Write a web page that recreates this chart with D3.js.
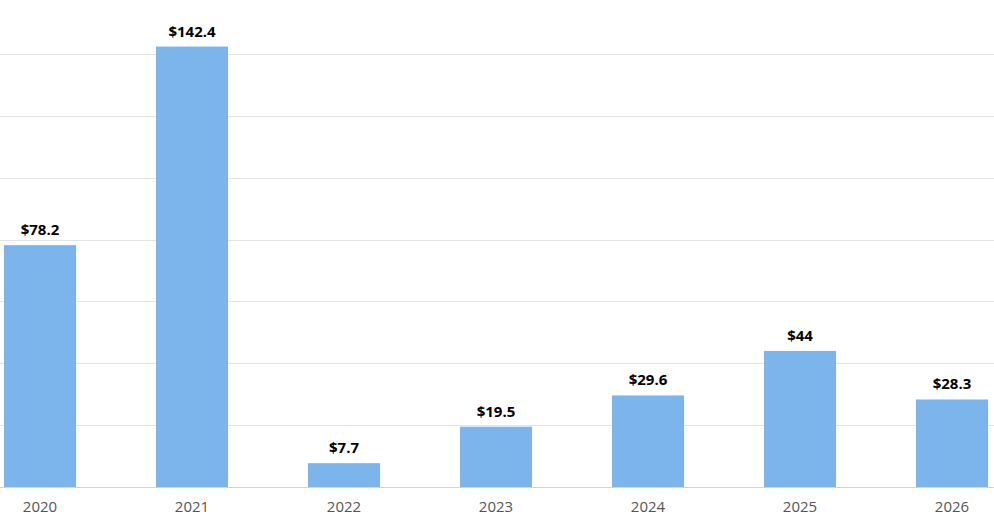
<!DOCTYPE html>
<html>
<head>
<meta charset="utf-8">
<script src="https://cdn.jsdelivr.net/npm/d3@7"></script>
<style>
  body { margin: 0; background: #fff; }
  text { font-family: "Open Sans", sans-serif; }
</style>
</head>
<body>
<svg id="chart" width="994" height="526"></svg>
<script>
var years = ['2020', '2021', '2022', '2023', '2024', '2025', '2026'];
var values = [78.2, 142.4, 7.7, 19.5, 29.6, 44, 28.3];
var gridTicks = [20, 40, 60, 80, 100, 120, 140];

var svg = d3.select('#chart');

var x = d3.scaleBand()
    .domain(years)
    .range([-36, 1028])
    .paddingInner(0.526)
    .paddingOuter(0.263);

var y = d3.scaleLinear()
    .domain([0, 140])
    .range([487, 54]);

// grid
svg.append('g')
    .selectAll('line')
    .data(gridTicks)
    .enter()
    .append('line')
    .attr('x1', 0).attr('x2', 994)
    .attr('y1', function (d) { return Math.round(y(d)) + 0.5; })
    .attr('y2', function (d) { return Math.round(y(d)) + 0.5; })
    .attr('stroke', '#e3e3e3');

// bars
svg.append('g')
    .selectAll('rect')
    .data(values)
    .enter()
    .append('rect')
    .attr('x', function (d, i) { return x(years[i]); })
    .attr('width', x.bandwidth())
    .attr('y', function (d) { return y(d); })
    .attr('height', function (d) { return y(0) - y(d); })
    .attr('fill', '#7cb5ec');

// value labels
svg.append('g')
    .selectAll('text')
    .data(values)
    .enter()
    .append('text')
    .attr('x', function (d, i) { return x(years[i]) + x.bandwidth() / 2; })
    .attr('y', function (d) { return y(d) - 10; })
    .attr('text-anchor', 'middle')
    .attr('font-size', 15)
    .attr('font-weight', 'bold')
    .attr('fill', '#000')
    .text(function (d) { return '$' + d; });

// x axis
var xAxis = svg.append('g')
    .attr('transform', 'translate(0,' + (y(0) + 0.5) + ')')
    .call(d3.axisBottom(x).tickSize(0).tickPadding(14));
xAxis.select('.domain').attr('stroke', '#ccd6eb').attr('d', 'M0,0H994');
xAxis.selectAll('text')
    .attr('font-size', 15)
    .attr('fill', '#555')
    .style('font-family', '"Open Sans", sans-serif');
</script>
</body>
</html>
